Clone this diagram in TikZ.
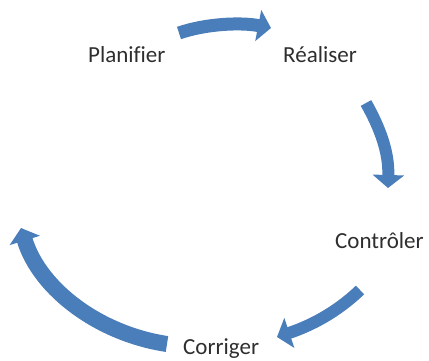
\documentclass[tikz,border=0pt]{standalone}
\usepackage{fontspec}
\setmainfont{Carlito}[Ligatures=NoCommon]
\usetikzlibrary{arrows.meta}
\definecolor{cycblue}{HTML}{4A7EBB}
\definecolor{txtgray}{HTML}{2E2E2E}
\begin{document}
\begin{tikzpicture}[x=1pt,y=-1pt,
  lbl/.style={anchor=base west,inner sep=0pt,text=txtgray,font=\fontsize{23}{28}\selectfont},
  bigarrow/.style={draw=cycblue,line cap=butt,-{Triangle[width=31pt,length=13pt]}}]
\useasboundingbox (0,0) rectangle (429,360);
\node[lbl] (plan) at (88,62) {Planifier};
\node[lbl] (real) at (283,62) {Réaliser};
\node[lbl] (ctrl) at (335,248) {Contrôler};
\node[lbl] (corr) at (183,354.5) {Corriger};
\coordinate (a1s) at (179,33);
\coordinate (a1e) at (271,28);
\coordinate (a2s) at (366,103);
\coordinate (a2e) at (388,188);
\coordinate (a3s) at (360,290);
\coordinate (a3e) at (277,337);
\coordinate (a4s) at (167,344);
\coordinate (a4e) at (21,228);
\draw[bigarrow,line width=13pt] (a1s) .. controls (205,24) and (240,22) .. (a1e);
\draw[bigarrow,line width=12pt] (a2s) .. controls (380,128) and (389,152) .. (a2e);
\draw[bigarrow,line width=12pt] (a3s) .. controls (336,313) and (310,326) .. (a3e);
\draw[bigarrow,line width=16pt] (a4s) .. controls (100,334) and (40,290) .. (a4e);
\end{tikzpicture}
\end{document}
